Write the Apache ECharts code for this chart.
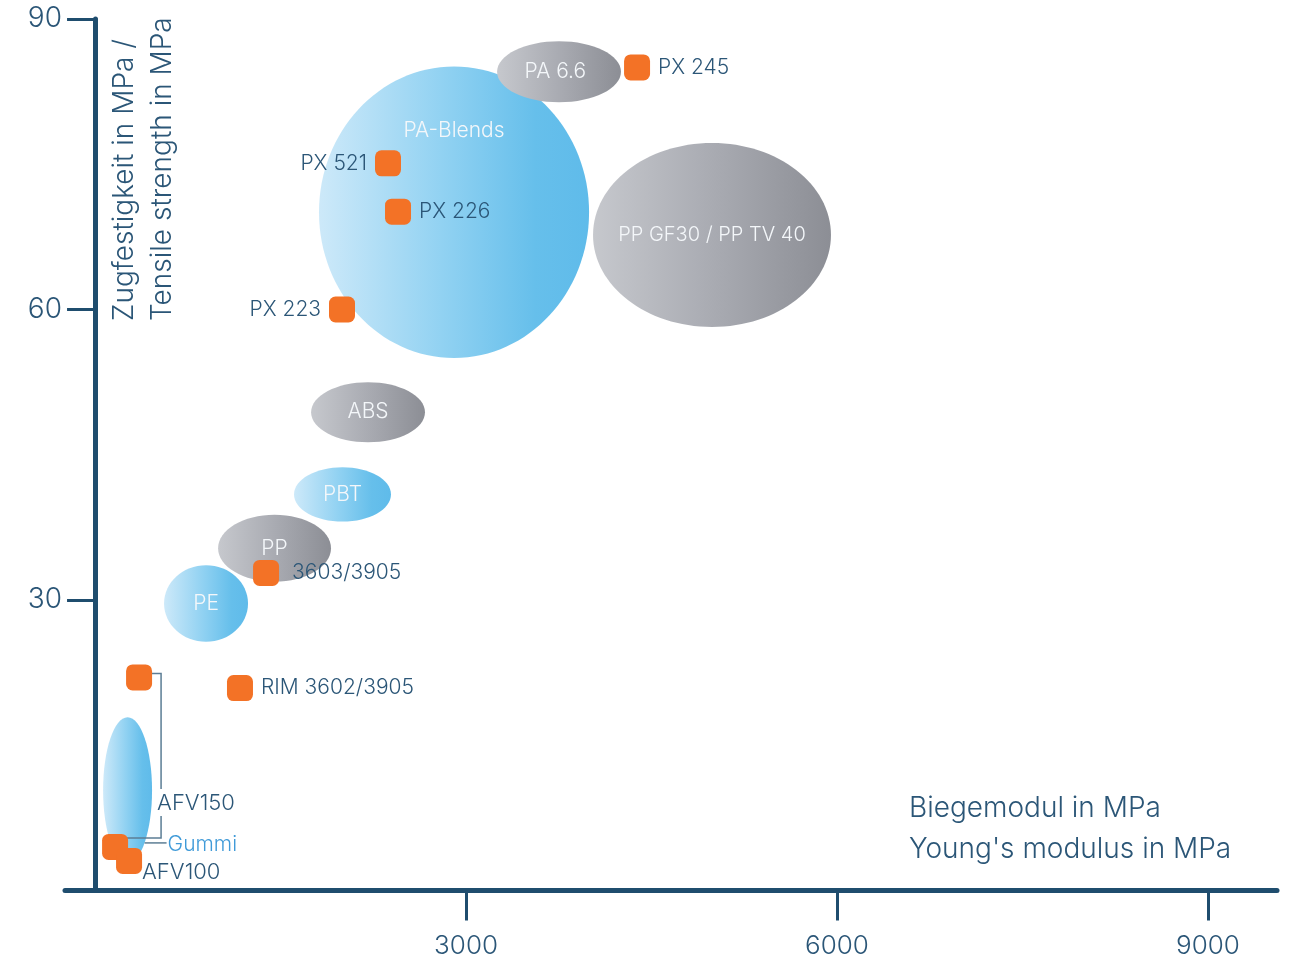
<!DOCTYPE html>
<html>
<head>
<meta charset="utf-8">
<script src="https://cdn.jsdelivr.net/npm/echarts@6/dist/echarts.min.js"></script>
<style>
html,body{margin:0;padding:0;background:#ffffff;}
#chart{width:1297px;height:967px;}
</style>
</head>
<body>
<div id="chart"></div>
<script>
// ---------- DATA ----------
// material regions (ranges of Young's modulus [MPa] and tensile strength [MPa])
const regionNames       = ['PA-Blends', 'PA 6.6', 'PP GF30 / PP TV 40', 'ABS', 'PBT', 'PP', 'PE', 'Gummi'];
const regionModulusMin  = [1811, 3251, 4027, 1747, 1609,  995,  558,   65];
const regionModulusMax  = [3995, 4253, 5951, 2668, 2393, 1908, 1237,  461];
const regionStrengthMin = [55.0, 81.4, 58.2, 46.3, 38.1, 31.9, 25.7,  2.8];
const regionStrengthMax = [85.1, 87.7, 77.2, 52.5, 43.7, 38.8, 33.6, 17.9];
const regionFamily      = ['blue', 'grey', 'grey', 'grey', 'blue', 'grey', 'blue', 'blue'];

// product grades (orange squares)
const gradeNames    = ['PX 245', 'PX 521', 'PX 226', 'PX 223', '3603/3905', 'RIM 3602/3905', 'AFV150', 'AFV150', 'AFV100'];
const gradeModulus  = [4383, 2369, 2450, 1997, 1383, 1172, 356, 162, 275];
const gradeStrength = [85.0, 75.1, 70.1, 60.0, 32.8, 20.9, 22.0, 4.5, 3.05];

// axis ticks
const xTickValues = [3000, 6000, 9000];
const yTickValues = [30, 60, 90];

// ---------- STYLE ----------
const AXIS = '#1f4d6e';
const TXT = '#2b5677';
const ORANGE = '#f37226';
const FONT = 'Inter, Roboto, "Liberation Sans", sans-serif';
const gradients = {
  blue: [[0, '#cde9f9'], [0.45, '#92d2f2'], [0.8, '#66bfeb'], [1, '#5fbbea']],
  grey: [[0, '#c6c8cd'], [0.5, '#a9abb2'], [1, '#8c8e95']]
};
const labelShift = { 'PA-Blends': [0, -0.56], 'PA 6.6': [-0.06, 0] };   // fractions of radii
const labelSize = { 'PP GF30 / PP TV 40': 20 };
const labelSide = { 'PX 521': 'left', 'PX 223': 'left' };

const chart = echarts.init(document.getElementById('chart'), null, { renderer: 'canvas' });

const regionData = regionNames.map((n, i) => [regionModulusMin[i], regionModulusMax[i], regionStrengthMin[i], regionStrengthMax[i], i]);

function renderRegion(params, api) {
  const i = api.value(4);
  const p0 = api.coord([api.value(0), api.value(2)]);
  const p1 = api.coord([api.value(1), api.value(3)]);
  const cx = (p0[0] + p1[0]) / 2, cy = (p0[1] + p1[1]) / 2;
  const rx = Math.abs(p1[0] - p0[0]) / 2, ry = Math.abs(p1[1] - p0[1]) / 2;
  const name = regionNames[i];
  const children = [{
    type: 'ellipse',
    shape: { cx: cx, cy: cy, rx: rx, ry: ry },
    style: { fill: new echarts.graphic.LinearGradient(0, 0, 1, 0, gradients[regionFamily[i]].map(s => ({ offset: s[0], color: s[1] }))) }
  }];
  if (name === 'Gummi') {
    const ly = cy + 0.72 * ry;
    const lx = cx + rx * Math.sqrt(1 - 0.72 * 0.72);
    children.push({ type: 'line', shape: { x1: lx, y1: ly, x2: lx + 22, y2: ly }, style: { stroke: '#5c7d95', lineWidth: 1.5 } });
    children.push({ type: 'text', style: { text: name, x: lx + 23, y: ly + 2, align: 'left', verticalAlign: 'middle', fill: '#3f9ad8', fontSize: 21, fontFamily: FONT, fontWeight: 300 } });
  } else {
    const sh = labelShift[name] || [0, 0];
    children.push({ type: 'text', style: { text: name, x: cx + sh[0] * rx, y: cy + sh[1] * ry, align: 'center', verticalAlign: 'middle', fill: '#f4f7fa', fontSize: labelSize[name] || 21, fontFamily: FONT, fontWeight: 300 } });
  }
  return { type: 'group', children: children };
}

// bracket joining the two AFV150 squares to their label
const bracketData = [[gradeModulus[6], gradeStrength[6], gradeModulus[7], gradeStrength[7]]];
function renderBracket(params, api) {
  const p1 = api.coord([api.value(0), api.value(1)]);
  const p2 = api.coord([api.value(2), api.value(3)]);
  const bx = p1[0] + 22;
  const topY = p1[1] - 4;
  const lowY = p2[1] - 9;
  const labY = lowY - 35;
  const ls = { stroke: '#5c7d95', lineWidth: 1.5, fill: null };
  return {
    type: 'group', children: [
      { type: 'polyline', shape: { points: [[p1[0] + 8, topY], [bx, topY], [bx, labY - 14]] }, style: ls },
      { type: 'polyline', shape: { points: [[bx, labY + 13], [bx, lowY], [p2[0] + 7, lowY]] }, style: ls },
      { type: 'text', style: { text: 'AFV150', x: bx - 4, y: labY, align: 'left', verticalAlign: 'middle', fill: TXT, fontSize: 22, fontFamily: FONT, fontWeight: 300 } }
    ]
  };
}

const gradeData = gradeNames.map((n, i) => {
  const d = { value: [gradeModulus[i], gradeStrength[i]], name: n };
  if (i === 6 || i === 7) {
    d.label = { show: false };
  } else if (n === 'AFV100') {
    d.label = { position: 'right', distance: 0, offset: [0, 11], fontSize: 22 };
  } else if (labelSide[n] === 'left') {
    d.label = { position: 'left', distance: 8 };
  } else if (n === '3603/3905') {
    d.label = { position: 'right', distance: 13 };
  }
  return d;
});

const option = {
  backgroundColor: '#ffffff',
  animation: false,
  grid: { left: 65, right: 20, top: 19, bottom: 76.5, containLabel: false },
  xAxis: {
    type: 'value', min: -243, max: 9558,
    splitLine: { show: false },
    axisLine: { show: true, onZero: true, lineStyle: { color: AXIS, width: 5 } },
    axisTick: { show: true, customValues: xTickValues, length: 30, inside: false, lineStyle: { color: AXIS, width: 3 } },
    axisLabel: { show: true, customValues: xTickValues, formatter: v => String(v), margin: 43, color: TXT, fontSize: 26, fontFamily: FONT, fontWeight: 300 }
  },
  yAxis: {
    type: 'value', min: 0, max: 90,
    splitLine: { show: false },
    axisLine: { show: true, onZero: true, lineStyle: { color: AXIS, width: 5 } },
    axisTick: { show: true, customValues: yTickValues, length: 28, inside: false, lineStyle: { color: AXIS, width: 3 } },
    axisLabel: { show: true, customValues: yTickValues, formatter: v => String(v), margin: 3, color: TXT, fontSize: 28, fontFamily: FONT, fontWeight: 300 }
  },
  graphic: [
    {
      type: 'text', x: 144, y: 321, rotation: Math.PI / 2,
      style: { text: 'Zugfestigkeit in MPa /\nTensile strength in MPa', fill: TXT, fontSize: 28, fontFamily: FONT, fontWeight: 300, lineHeight: 38, align: 'left', verticalAlign: 'middle' }
    },
    {
      type: 'text', x: 909, y: 829,
      style: { text: 'Biegemodul in MPa\nYoung\'s modulus in MPa', fill: TXT, fontSize: 28, fontFamily: FONT, fontWeight: 300, lineHeight: 41, align: 'left', verticalAlign: 'middle' }
    }
  ],
  series: [
    {
      type: 'custom', name: 'regions', z: 2,
      data: regionData,
      encode: { x: [0, 1], y: [2, 3] },
      renderItem: renderRegion,
      silent: true
    },
    {
      type: 'custom', name: 'bracket', z: 3,
      data: bracketData,
      encode: { x: [0, 2], y: [1, 3] },
      renderItem: renderBracket,
      silent: true
    },
    {
      type: 'scatter', name: 'grades', z: 4,
      symbol: 'roundRect', symbolSize: 26,
      itemStyle: { color: ORANGE, opacity: 1 },
      data: gradeData,
      label: { show: true, position: 'right', distance: 8, formatter: '{b}', color: TXT, fontSize: 21, fontFamily: FONT, fontWeight: 300 }
    }
  ]
};
chart.setOption(option);
</script>
</body>
</html>
